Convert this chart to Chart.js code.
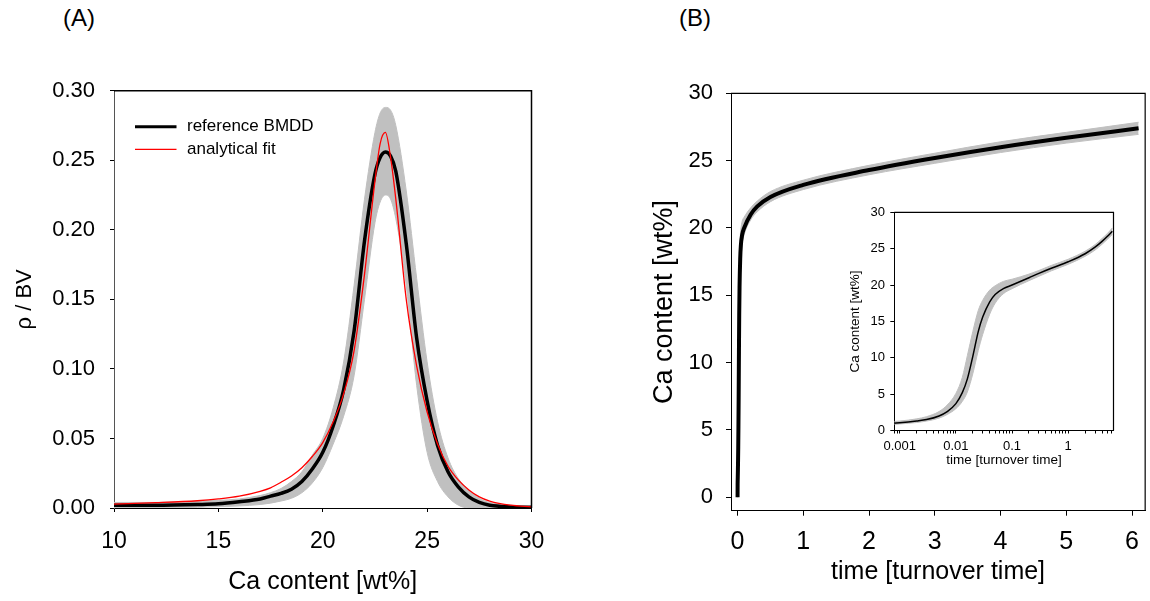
<!DOCTYPE html>
<html>
<head>
<meta charset="utf-8">
<script src="https://cdn.jsdelivr.net/npm/chart.js@4.4.1/dist/chart.umd.min.js"></script>
<style>
  body { margin: 0; background: #fff; width: 1150px; height: 601px; position: relative; overflow: hidden;
         font-family: 'Liberation Sans', Arial, sans-serif; }
  canvas { position: absolute; }
  .panel-label { position: absolute; font-size: 24px; line-height: 26px; color: #000; }
</style>
</head>
<body>
<div class="panel-label" style="left:63px;top:5px">(A)</div>
<div class="panel-label" style="left:679px;top:5px">(B)</div>
<canvas id="chartA" width="575" height="601" style="left:0;top:0"></canvas>
<canvas id="chartB" width="575" height="601" style="left:575px;top:0"></canvas>
<canvas id="chartInset" width="330" height="290" style="left:800px;top:190px"></canvas>
<script>
// ---- panel A: BMDD, density vs Ca content ----
const caContent = [10, 12, 14, 15, 16, 17, 17.5, 18, 18.5, 19, 19.5, 20, 20.5, 21, 21.5, 22, 22.5, 22.75,
                   23, 23.25, 23.5, 24, 24.5, 25, 25.5, 26, 26.5, 27, 27.5, 28, 29, 30];
const refBMDD = [0.002, 0.002, 0.0025, 0.003, 0.0045, 0.0065, 0.0085, 0.0105, 0.0135, 0.019, 0.028, 0.040,
                 0.059, 0.085, 0.127, 0.192, 0.240, 0.252, 0.256, 0.253, 0.242, 0.190, 0.122, 0.077, 0.045,
                 0.026, 0.015, 0.008, 0.004, 0.002, 0.0008, 0.0005];
const fitBMDD = [0.0028, 0.0038, 0.0052, 0.0065, 0.0085, 0.012, 0.0145, 0.0185, 0.023, 0.029, 0.037, 0.047,
                 0.062, 0.082, 0.113, 0.168, 0.235, 0.262, 0.270, 0.252, 0.222, 0.150, 0.102, 0.069, 0.046,
                 0.030, 0.020, 0.013, 0.008, 0.005, 0.002, 0.0008];
const bmddUpper = [0.004, 0.004, 0.005, 0.0055, 0.0065, 0.009, 0.011, 0.014, 0.019, 0.026, 0.038, 0.050,
                   0.072, 0.105, 0.160, 0.222, 0.270, 0.284, 0.288, 0.286, 0.275, 0.228, 0.165, 0.105, 0.062,
                   0.036, 0.021, 0.013, 0.007, 0.004, 0.002, 0.001];
const bmddLower = [0, 0, 0.0005, 0.001, 0.0015, 0.0025, 0.0035, 0.005, 0.007, 0.011, 0.018, 0.029,
                   0.046, 0.066, 0.095, 0.150, 0.205, 0.220, 0.225, 0.222, 0.208, 0.160, 0.088, 0.040, 0.019,
                   0.008, 0.002, 0, 0, 0, 0, 0];
const aXTicks = [10, 15, 20, 25, 30];
const aYTicks = [0, 0.05, 0.10, 0.15, 0.20, 0.25, 0.30];

// ---- panel B: mineralization kinetics, Ca content vs time ----
const timeB = [0, 0.0008, 0.001, 0.002, 0.003, 0.005, 0.007, 0.01, 0.013, 0.016, 0.02, 0.025, 0.03, 0.04,
               0.05, 0.07, 0.1, 0.2, 0.3, 0.5, 1, 2, 3, 4, 5, 6.1];
const caB = [0, 1.0, 1.05, 1.3, 1.5, 2.0, 2.6, 3.7, 5.2, 7.1, 10.2, 13.6, 15.6, 17.7, 18.7, 19.5, 20.0,
             21.0, 21.6, 22.3, 23.2, 24.3, 25.2, 26.0, 26.7, 27.4];
const caBUpper = [0, 1.25, 1.3, 1.6, 1.9, 2.6, 3.5, 5.1, 7.3, 10.3, 13.6, 16.5, 17.9, 19.3, 19.9, 20.5, 20.8,
                  21.5, 22.0, 22.7, 23.55, 24.65, 25.55, 26.4, 27.1, 27.85];
const caBLower = [0, 0.85, 0.9, 1.1, 1.3, 1.7, 2.2, 3.0, 4.0, 5.3, 7.8, 11.0, 13.2, 16.0, 17.5, 18.8, 19.5,
                  20.6, 21.2, 21.95, 22.85, 23.95, 24.8, 25.6, 26.3, 26.95];
const bXTicks = [0, 1, 2, 3, 4, 5, 6];
const bYTicks = [0, 5, 10, 15, 20, 25, 30];
const insetXLabels = [0.001, 0.01, 0.1, 1];

const GRAY = '#c0c0c0';
Chart.defaults.font.family = "'Liberation Sans', Arial, sans-serif";
Chart.defaults.color = '#000';

function pts(xs, ys) {
    return xs.map((x, i) => ({ x: x, y: ys[i] }));
}

// box line on top and right of the plot
const framePlugin = {
    id: 'frame',
    afterDatasetsDraw(chart, args, opts) {
        const a = chart.chartArea, ctx = chart.ctx;
        ctx.save();
        ctx.strokeStyle = '#000';
        ctx.lineWidth = opts.width || 1;
        ctx.beginPath();
        ctx.moveTo(a.left, a.top);
        ctx.lineTo(a.right, a.top);
        ctx.lineTo(a.right, a.bottom);
        ctx.stroke();
        ctx.restore();
    }
};

// legend drawn inside the plot of panel A
const insideLegend = {
    id: 'insideLegend',
    afterDraw(chart) {
        const ctx = chart.ctx;
        const items = chart.data.datasets.filter(d => d.label).sort((a, b) => b.order - a.order);
        ctx.save();
        ctx.font = "17px 'Liberation Sans', Arial, sans-serif";
        ctx.textBaseline = 'middle';
        items.forEach((d, i) => {
            const y = 126.7 + i * 22.6;
            ctx.strokeStyle = d.borderColor;
            ctx.lineWidth = i === 0 ? 3 : 1.2;
            ctx.beginPath();
            ctx.moveTo(135, y);
            ctx.lineTo(176.5, y);
            ctx.stroke();
            ctx.fillStyle = '#000';
            ctx.fillText(d.label, 187, y);
        });
        ctx.restore();
    }
};

function axis(o) {
    return {
        type: o.type || 'linear',
        min: o.min,
        max: o.max,
        afterFit: s => { if (o.width) s.width = o.width; if (o.height) s.height = o.height; },
        afterBuildTicks: s => { s.ticks = o.ticks.map(v => ({ value: v })); },
        grid: { drawOnChartArea: false, drawTicks: true, tickLength: o.tickLength, tickColor: '#000', tickWidth: 1 },
        border: { display: true, color: o.borderColor || '#000', width: 1 },
        ticks: {
            autoSkip: false, maxRotation: 0, padding: o.tickPad,
            font: { size: o.tickSize },
            callback: o.fmt
        },
        title: {
            display: true, text: o.title, color: '#000',
            font: { size: o.titleSize },
            padding: o.titlePad
        }
    };
}

const lineDefaults = { pointRadius: 0, cubicInterpolationMode: 'monotone', fill: false };

// band datasets get a high order so they are drawn first (underneath)
function band(xs, lo, hi) {
    return [
        { ...lineDefaults, order: 10, data: pts(xs, lo), borderColor: GRAY, borderWidth: 1 },
        { ...lineDefaults, order: 9, data: pts(xs, hi), borderColor: GRAY, borderWidth: 1,
          backgroundColor: GRAY, fill: '-1' }
    ];
}

// Panel A
new Chart(document.getElementById('chartA'), {
    type: 'line',
    data: {
        datasets: [
            ...band(caContent, bmddLower, bmddUpper),
            { ...lineDefaults, order: 2, label: 'reference BMDD', data: pts(caContent, refBMDD), borderColor: '#000', borderWidth: 3.5 },
            { ...lineDefaults, order: 1, label: 'analytical fit', data: pts(caContent, fitBMDD), borderColor: '#ff0000', borderWidth: 1.3 }
        ]
    },
    options: {
        responsive: false, animation: false,
        layout: { padding: { left: 4, top: 90.7, right: 43.5, bottom: 0 } },
        plugins: { legend: { display: false }, tooltip: { enabled: false }, frame: { width: 1.5 } },
        scales: {
            x: axis({ min: 10, max: 30, ticks: aXTicks, height: 93, tickLength: 4, tickPad: 16, tickSize: 23,
                      fmt: v => String(v), title: 'Ca content [wt%]', titleSize: 25, titlePad: { top: 0, bottom: 4 } }),
            y: axis({ min: 0, max: 0.30, ticks: aYTicks, width: 110, tickLength: 4, tickPad: 15, tickSize: 22,
                      borderColor: '#555', fmt: v => v.toFixed(2), title: 'ρ / BV', titleSize: 22,
                      titlePad: { top: 7.8, bottom: 0 } })
        }
    },
    plugins: [framePlugin, insideLegend]
});

// Panel B, linear time
new Chart(document.getElementById('chartB'), {
    type: 'line',
    data: {
        datasets: [
            ...band(timeB, caBLower, caBUpper),
            { ...lineDefaults, order: 1, data: pts(timeB, caB), borderColor: '#000', borderWidth: 4 }
        ]
    },
    options: {
        responsive: false, animation: false,
        layout: { padding: { left: 56, top: 93.3, right: 1, bottom: 0 } },
        plugins: { legend: { display: false }, tooltip: { enabled: false }, frame: { width: 1.2 } },
        scales: {
            x: axis({ min: -0.1, max: 6.2, ticks: bXTicks, height: 90.3, tickLength: 5, tickPad: 11, tickSize: 25,
                      fmt: v => String(v), title: 'time [turnover time]', titleSize: 25, titlePad: { top: 0, bottom: 14 } }),
            y: axis({ min: -1, max: 30, ticks: bYTicks, width: 100, tickLength: 5, tickPad: 13, tickSize: 22,
                      fmt: v => String(v), title: 'Ca content [wt%]', titleSize: 27, titlePad: { top: 17.8, bottom: 0 } })
        }
    },
    plugins: [framePlugin]
});

// Inset, log time (t = 0 left out)
const insetTime = timeB.slice(1);
const minorTicks = [];
[0.0001, 0.001, 0.01, 0.1, 1].forEach(dec => {
    [1, 2, 3, 4, 5, 6, 7, 8, 9].forEach(m => {
        const v = +(m * dec).toPrecision(3);
        if (v >= 0.0008 && v <= 6.4) minorTicks.push(v);
    });
});
new Chart(document.getElementById('chartInset'), {
    type: 'line',
    data: {
        datasets: [
            ...band(insetTime, caBLower.slice(1), caBUpper.slice(1)),
            { ...lineDefaults, order: 1, data: pts(insetTime, caB.slice(1)), borderColor: '#000', borderWidth: 1.5 }
        ]
    },
    options: {
        responsive: false, animation: false,
        layout: { padding: { left: 44.3, top: 22.3, right: 16.5, bottom: 0 } },
        plugins: { legend: { display: false }, tooltip: { enabled: false }, frame: { width: 1.2 } },
        scales: {
            x: axis({ type: 'logarithmic', min: 0.0008, max: 6.4, ticks: minorTicks, height: 49.5, tickLength: 3,
                      tickPad: 5.4, tickSize: 13, fmt: v => insetXLabels.includes(v) ? String(v) : '',
                      title: 'time [turnover time]', titleSize: 13.5, titlePad: { top: 0, bottom: 11.6 } }),
            y: axis({ min: 0, max: 30, ticks: bYTicks, width: 50, tickLength: 4, tickPad: 5.3, tickSize: 13,
                      fmt: v => String(v), title: 'Ca content [wt%]', titleSize: 13.5, titlePad: { top: 3.3, bottom: 0 } })
        }
    },
    plugins: [framePlugin]
});
</script>
</body>
</html>
